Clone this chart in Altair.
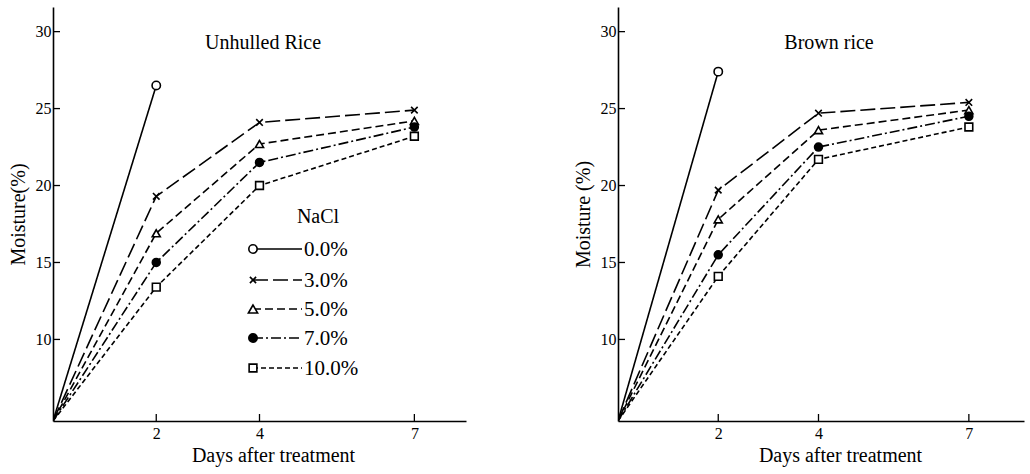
import altair as alt
import pandas as pd

days = [0, 2, 4, 7]
nacl = ["0.0%", "3.0%", "5.0%", "7.0%", "10.0%"]

unhulled = {
    "0.0%": [4.7, 26.5, None, None],
    "3.0%": [4.7, 19.3, 24.1, 24.9],
    "5.0%": [4.7, 16.9, 22.7, 24.2],
    "7.0%": [4.7, 15.0, 21.5, 23.8],
    "10.0%": [4.7, 13.4, 20.0, 23.2],
}
brown = {
    "0.0%": [4.7, 27.4, None, None],
    "3.0%": [4.7, 19.7, 24.7, 25.4],
    "5.0%": [4.7, 17.8, 23.6, 24.9],
    "7.0%": [4.7, 15.5, 22.5, 24.5],
    "10.0%": [4.7, 14.1, 21.7, 23.8],
}

x_ticks = [2, 4, 7]
y_ticks = [10, 15, 20, 25, 30]

dashes = [[1, 0], [15, 5], [8, 4], [10, 3, 2, 3], [5, 3]]
X_PATH = "M-0.8,-0.8L0.8,0.8M-0.8,0.8L0.8,-0.8"
shapes = ["circle", X_PATH, "triangle-up", "circle", "square"]
fills = ["white", "black", "white", "black", "white"]
sizes = [70, 60, 85, 70, 60]

FONT = "Liberation Serif"
H = 414


def long_df(d):
    rows = []
    for k in nacl:
        for day, v in zip(days, d[k]):
            if v is not None:
                rows.append({"nacl": k, "day": day, "moist": v})
    return pd.DataFrame(rows)


def panel(d, W, xmax, title, ytitle, legend=False, title_x=210, xt_x=220):
    df = long_df(d)
    xs = alt.Scale(domain=[0, xmax], nice=False)
    ys = alt.Scale(domain=[4.7, 31.6], nice=False, zero=False)
    xenc = alt.X("day:Q", scale=xs,
                 axis=alt.Axis(values=x_ticks, ticks=False, labelPadding=4,
                               title="Days after treatment", titlePadding=4,
                               titleX=xt_x, titleAlign="center"))
    yenc = alt.Y("moist:Q", scale=ys,
                 axis=alt.Axis(values=y_ticks, ticks=False, labelPadding=2,
                               title=ytitle, titlePadding=7))
    line = alt.Chart(df).mark_line(color="black", strokeWidth=1.6, clip=True).encode(
        x=xenc, y=yenc,
        strokeDash=alt.StrokeDash("nacl:N", scale=alt.Scale(domain=nacl, range=dashes), legend=None),
        detail="nacl:N",
    )
    pts = alt.Chart(df).transform_filter("datum.day > 0").mark_point(
        stroke="black", strokeWidth=1.6, opacity=1, fillOpacity=1
    ).encode(
        x=alt.X("day:Q", scale=xs), y=alt.Y("moist:Q", scale=ys),
        shape=alt.Shape("nacl:N", scale=alt.Scale(domain=nacl, range=shapes), legend=None),
        fill=alt.Fill("nacl:N", scale=alt.Scale(domain=nacl, range=fills), legend=None),
        size=alt.Size("nacl:N", scale=alt.Scale(domain=nacl, range=sizes), legend=None),
    )
    xt = alt.Chart(pd.DataFrame({"d": x_ticks})).mark_rule(color="black", strokeWidth=1.3).encode(
        x=alt.X("d:Q", scale=xs), y=alt.value(H), y2=alt.value(H - 7)
    )
    yt = alt.Chart(pd.DataFrame({"v": y_ticks})).mark_rule(color="black", strokeWidth=1.3).encode(
        y=alt.Y("v:Q", scale=ys), x=alt.value(0), x2=alt.value(7)
    )
    one = alt.Data(values=[{}])
    ttl = alt.Chart(one).mark_text(font=FONT, fontSize=20, color="black").encode(
        x=alt.value(title_x), y=alt.value(36), text=alt.value(title)
    )
    layers = [line, pts, xt, yt, ttl]
    if legend:
        layers.append(alt.Chart(one).mark_text(font=FONT, fontSize=20, color="black").encode(
            x=alt.value(265), y=alt.value(210), text=alt.value("NaCl")))
        row_y = [242, 273, 302, 331, 361]
        for i, k in enumerate(nacl):
            yy = row_y[i]
            layers.append(alt.Chart(one).mark_rule(color="black", strokeWidth=1.6,
                                                   strokeDash=dashes[i]).encode(
                x=alt.value(200), x2=alt.value(249), y=alt.value(yy)))
            layers.append(alt.Chart(one).mark_point(
                shape=shapes[i], fill=fills[i], stroke="black", strokeWidth=1.6,
                size=sizes[i], opacity=1, fillOpacity=1).encode(
                x=alt.value(200), y=alt.value(yy)))
            layers.append(alt.Chart(one).mark_text(
                font=FONT, fontSize=21, color="black", align="left", baseline="middle").encode(
                x=alt.value(251), y=alt.value(yy + 1), text=alt.value(k)))
    return alt.layer(*layers).properties(width=W, height=H)


left = panel(unhulled, 413, 8.0, "Unhulled Rice", "Moisture(%)", legend=True, title_x=210, xt_x=220)
right = panel(brown, 406, 8.1, "Brown rice", "Moisture (%)", legend=False, title_x=211, xt_x=222)

chart = alt.hconcat(left, right, spacing=107).properties(
    padding={"left": 8, "top": 7, "right": 5, "bottom": 5}
).configure_view(stroke=None).configure_axis(
    grid=False, domainColor="black", domainWidth=1.6, labelColor="black",
    titleColor="black", labelFont=FONT, titleFont=FONT, labelFontSize=16,
    titleFontSize=20, titleFontWeight="normal"
)

chart.save("out.html", embed_options={"renderer": "svg", "actions": False})
